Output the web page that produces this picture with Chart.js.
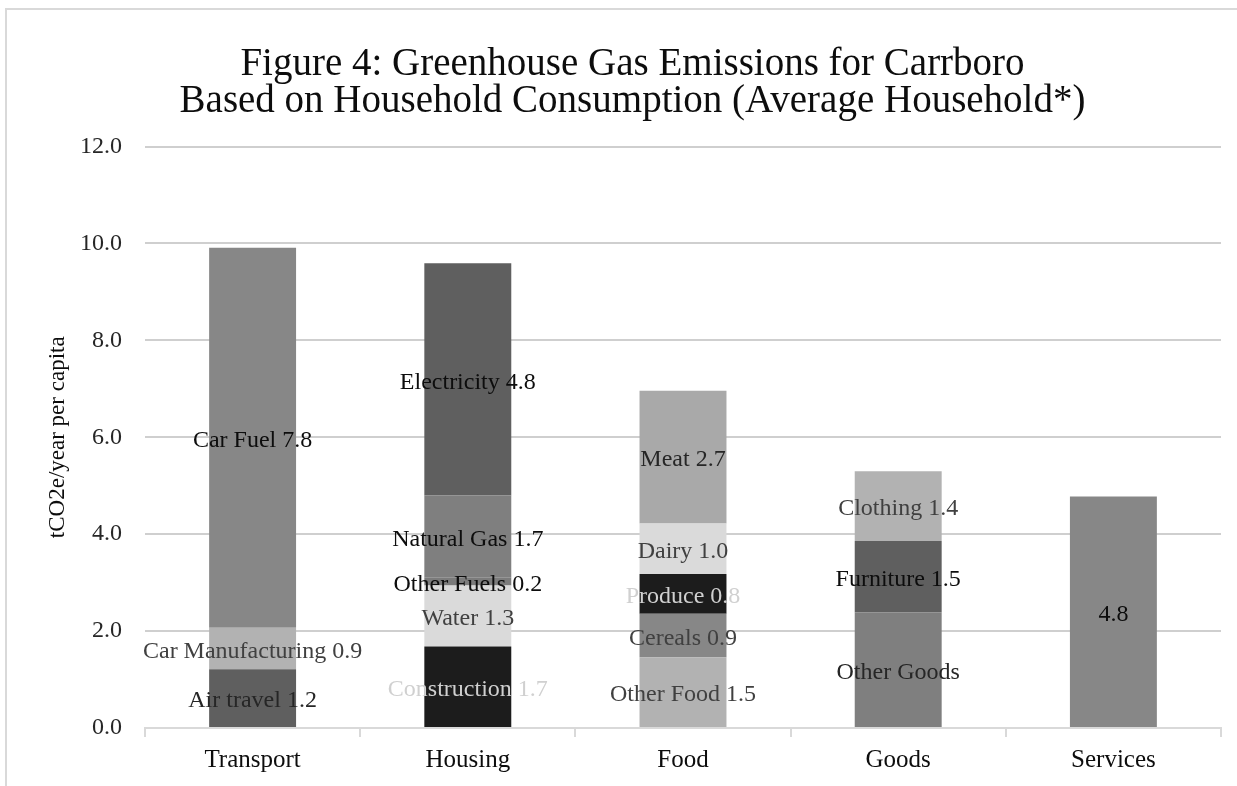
<!DOCTYPE html>
<html>
<head>
<meta charset="utf-8">
<title>Figure 4: Greenhouse Gas Emissions for Carrboro</title>
<script src="https://cdn.jsdelivr.net/npm/chart.js@4.4.1/dist/chart.umd.min.js"></script>
<style>
    html, body { margin: 0; overflow: hidden; background: #fff; }
    #clip {
        position: absolute; left: 0; top: 0;
        width: 1237px; height: 786px; overflow: hidden;
    }
    #frame {
        position: absolute; left: 5px; top: 8px;
        width: 1300px; height: 900px;
        border-left: 2px solid #d9d9d9; border-top: 2px solid #d9d9d9;
    }
    #chart { position: absolute; left: 0; top: 0; }
</style>
</head>
<body>
<div id="clip">
    <div id="frame"></div>
    <canvas id="chart" width="1258" height="786"></canvas>
</div>
<script>
const categories = ["Transport", "Housing", "Food", "Goods", "Services"];

const transportNames = ["Air travel", "Car Manufacturing", "Car Fuel"];
const transportValues = [1.21, 0.86, 7.84];

const housingNames = ["Construction", "Water", "Other Fuels", "Natural Gas", "Electricity"];
const housingValues = [1.68, 1.26, 0.16, 1.70, 4.79];

const foodNames = ["Other Food", "Cereals", "Produce", "Dairy", "Meat"];
const foodValues = [1.46, 0.90, 0.82, 1.04, 2.74];

const goodsNames = ["Other Goods", "Furniture", "Clothing"];
const goodsValues = [2.39, 1.47, 1.44];

const servicesNames = [""];
const servicesValues = [4.78];

const yTicks = [0, 2, 4, 6, 8, 10, 12];

// labels in the original that show no number
const nameOnly = ["Other Goods"];

/* ---------------- STYLES ---------------- */

const SERIF = "'Liberation Serif', 'Times New Roman', serif";

const groupColors = [
    ["#5f5f5f", "#b2b2b2", "#878787"],
    ["#1c1c1c", "#dadada", "#7b7b7b", "#7f7f7f", "#5f5f5f"],
    ["#b2b2b2", "#878787", "#1c1c1c", "#dadada", "#a9a9a9"],
    ["#7f7f7f", "#5f5f5f", "#b2b2b2"],
    ["#878787"]
];

const labelColors = [
    ["#262626", "#404040", "#0d0d0d"],
    ["#d0d0d0", "#404040", "#0d0d0d", "#0d0d0d", "#0d0d0d"],
    ["#404040", "#404040", "#d0d0d0", "#404040", "#262626"],
    ["#262626", "#0d0d0d", "#404040"],
    ["#0d0d0d"]
];

/* ---------------- DATASETS ---------------- */

const groups = [
    [transportNames, transportValues],
    [housingNames, housingValues],
    [foodNames, foodValues],
    [goodsNames, goodsValues],
    [servicesNames, servicesValues]
];

const datasets = [];

groups.forEach(([names, values], ci) => {
    values.forEach((v, i) => {
        const name = names[i];
        let text = v.toFixed(1);
        if (nameOnly.includes(name)) text = name;
        else if (name) text = `${name} ${text}`;

        datasets.push({
            label: name || categories[ci],
            data: categories.map((_, k) => (k === ci ? v : null)),
            backgroundColor: groupColors[ci][i],
            stack: "total",
            categoryPercentage: 1,
            barPercentage: 0.404,
            segmentText: text,
            segmentColor: labelColors[ci][i]
        });
    });
});

/* ---------------- SEGMENT LABELS ---------------- */

const segmentLabels = {
    id: "segmentLabels",
    afterDatasetsDraw(chart) {
        const ctx = chart.ctx;
        ctx.save();
        ctx.font = `24px ${SERIF}`;
        ctx.textAlign = "center";
        ctx.textBaseline = "middle";

        chart.data.datasets.forEach((ds, di) => {
            const meta = chart.getDatasetMeta(di);
            meta.data.forEach((bar, k) => {
                if (ds.data[k] == null) return;
                const { x, y, base } = bar.getProps(["x", "y", "base"], true);
                ctx.fillStyle = ds.segmentColor;
                ctx.fillText(ds.segmentText, x, (y + base) / 2 + 3);
            });
        });
        ctx.restore();
    }
};

/* ---------------- CHART ---------------- */

new Chart(document.getElementById("chart"), {
    type: "bar",
    data: { labels: categories, datasets },
    plugins: [segmentLabels],
    options: {
        responsive: false,
        animation: false,
        layout: { padding: { left: 44, right: 37, top: 0, bottom: 0 } },
        plugins: {
            legend: { display: false },
            tooltip: { enabled: false },
            title: {
                display: true,
                text: [
                    "Figure 4: Greenhouse Gas Emissions for Carrboro",
                    "Based on Household Consumption (Average Household*)"
                ],
                color: "#0d0d0d",
                font: { family: SERIF, size: 39, weight: "normal", lineHeight: 0.93 },
                padding: { top: 47, bottom: 27 }
            }
        },
        scales: {
            x: {
                stacked: true,
                grid: {
                    display: true,
                    drawOnChartArea: false,
                    drawTicks: true,
                    tickLength: 9,
                    offset: true,
                    color: "#d9d9d9",
                    lineWidth: 2
                },
                border: { display: true, color: "#d9d9d9", width: 2 },
                ticks: {
                    color: "#0d0d0d",
                    font: { family: SERIF, size: 25 },
                    padding: 8,
                    maxRotation: 0
                },
                afterFit(scale) { scale.height = 58; }
            },
            y: {
                stacked: true,
                min: 0,
                max: 12,
                afterBuildTicks(scale) {
                    scale.ticks = yTicks.map(v => ({ value: v }));
                },
                grid: {
                    color: "#cfcfcf",
                    lineWidth: 2,
                    drawTicks: false
                },
                border: { display: false },
                ticks: {
                    color: "#262626",
                    font: { family: SERIF, size: 24 },
                    padding: 23,
                    callback: v => v.toFixed(1)
                },
                title: {
                    display: true,
                    text: "tCO2e/year per capita",
                    color: "#0d0d0d",
                    font: { family: SERIF, size: 23, lineHeight: 1.2 },
                    padding: 0
                },
                afterFit(scale) { scale.width = 101; }
            }
        }
    }
});
</script>
</body>
</html>
